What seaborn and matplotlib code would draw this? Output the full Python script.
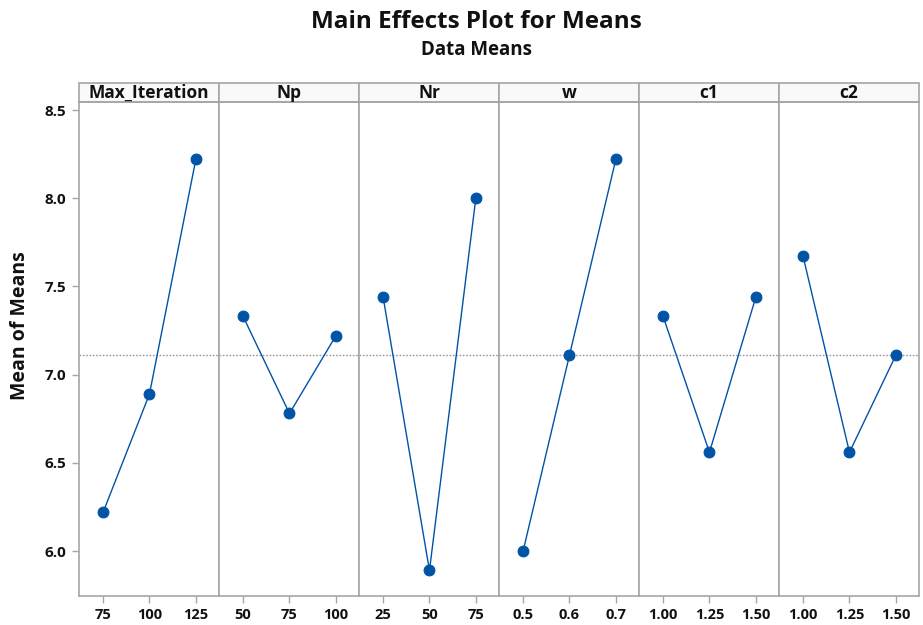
import matplotlib
matplotlib.use("Agg")
import matplotlib.pyplot as plt
import seaborn as sns
import pandas as pd
from matplotlib.patches import Rectangle

factors = ["Max_Iteration", "Np", "Nr", "w", "c1", "c2"]
levels = [
    ["75", "100", "125"],
    ["50", "75", "100"],
    ["25", "50", "75"],
    ["0.5", "0.6", "0.7"],
    ["1.00", "1.25", "1.50"],
    ["1.00", "1.25", "1.50"],
]
means = [
    [6.22, 6.89, 8.22],
    [7.33, 6.78, 7.22],
    [7.44, 5.89, 8.00],
    [6.00, 7.11, 8.22],
    [7.33, 6.56, 7.44],
    [7.67, 6.56, 7.11],
]
grand_mean = 7.111
y_ticks = [6.0, 6.5, 7.0, 7.5, 8.0, 8.5]

rows = []
for f, lv, mv in zip(factors, levels, means):
    for l, m in zip(lv, mv):
        rows.append({"factor": f, "level": l, "mean": m})
df = pd.DataFrame(rows)

sns.set_theme(style="white")
plt.rcParams["font.family"] = ["Open Sans", "DejaVu Sans"]

BLUE = "#0054A6"
GRAY = "#a6a6a6"

fig, axes = plt.subplots(1, 6, figsize=(9.23, 6.25), dpi=100, sharey=True)
fig.subplots_adjust(left=79 / 923, right=919 / 923, bottom=1 - 595.7 / 625,
                    top=1 - 102.3 / 625, wspace=0)

strip_h = (102.3 - 82.7) / (595.7 - 102.3)
for i, (ax, f, lv) in enumerate(zip(axes, factors, levels)):
    sub = df[df["factor"] == f]
    ax.axhline(grand_mean, color="#9a9a9a", lw=1.0, ls=(0, (1.2, 1.2)), zorder=1)
    sns.pointplot(data=sub, x="level", y="mean", order=lv, ax=ax, color=BLUE,
                  markersize=7.8, linewidth=1.0, errorbar=None, zorder=3)
    ax.set_xlim(-0.52, 2.5)
    ax.set_ylim(5.747, 8.544)
    ax.set_xlabel("")
    ax.set_ylabel("")
    for s in ax.spines.values():
        s.set_color(GRAY)
        s.set_linewidth(1.2)
    ax.tick_params(axis="x", length=5, width=1, color=GRAY, bottom=True,
                   labelsize=10.5, pad=4, labelcolor="#111111")
    for t in ax.get_xticklabels():
        t.set_fontweight("bold")
    if i == 0:
        ax.set_yticks(y_ticks)
        ax.set_yticklabels([f"{v:.1f}" for v in y_ticks], fontweight="bold")
        ax.tick_params(axis="y", length=5, width=1, color=GRAY, left=True,
                       labelsize=11, pad=4, labelcolor="#111111")
    else:
        ax.tick_params(axis="y", left=False)
    rect = Rectangle((0, 1), 1, strip_h, transform=ax.transAxes,
                     facecolor="#f9f9f9", edgecolor=GRAY, lw=1.2, clip_on=False)
    ax.add_patch(rect)
    ax.text(0.5, 1 + strip_h / 2, f, transform=ax.transAxes, ha="center",
            va="center", fontsize=12.5, fontweight="bold", color="#111111")

fig.text(0.516, 1 - 22 / 625, "Main Effects Plot for Means", ha="center",
         va="center", fontsize=17.5, fontweight="bold", color="#111111")
fig.text(0.516, 1 - 50 / 625, "Data Means", ha="center", va="center",
         fontsize=13.5, fontweight="bold", color="#111111")
fig.text(20 / 923, 1 - 326 / 625, "Mean of Means", rotation=90, ha="center",
         va="center", fontsize=14, fontweight="bold", color="#111111")

fig.savefig("out.png", dpi=100)
